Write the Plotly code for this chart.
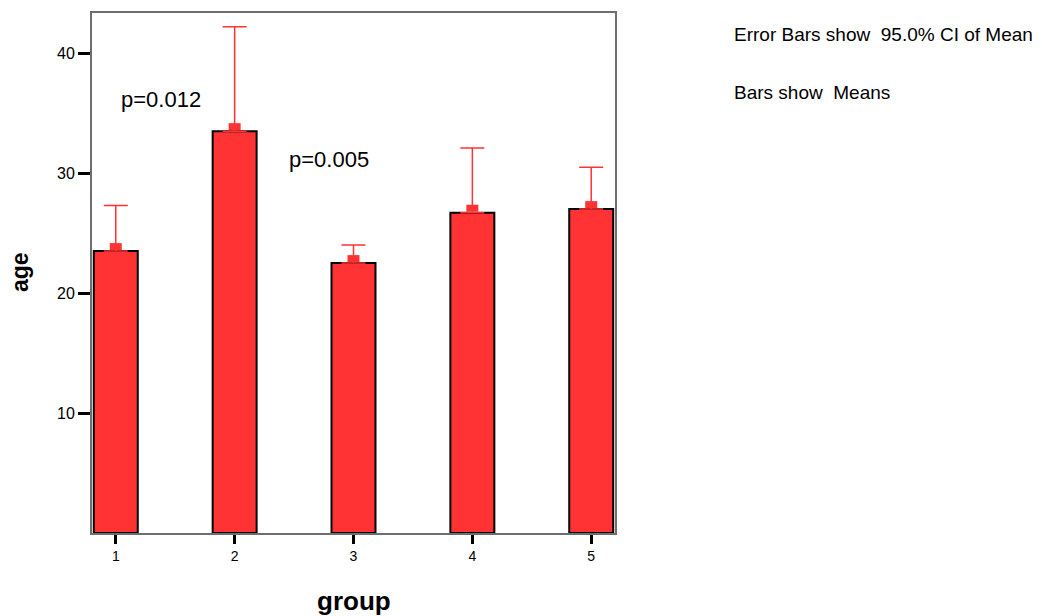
import plotly.graph_objects as go

groups = [1, 2, 3, 4, 5]
means = [23.5, 33.5, 22.5, 26.7, 27.0]
upper_ci = [27.3, 42.2, 24.0, 32.1, 30.5]
y_ticks = [10, 20, 30, 40]
x_tick_labels = ["1", "2", "3", "4", "5"]
p_labels = ["p=0.012", "p=0.005"]
notes = ["Error Bars show  95.0% CI of Mean", "Bars show  Means"]

RED = "rgb(255,51,51)"
FONT = "Liberation Sans, Arial, sans-serif"

err_plus = [u - m for u, m in zip(upper_ci, means)]
err_minus = [0 for _ in means]

fig = go.Figure()
fig.add_trace(go.Bar(
    x=groups, y=means, width=0.37,
    marker=dict(color=RED, line=dict(color="black", width=2)),
    error_y=dict(type="data", symmetric=False, array=err_plus, arrayminus=err_minus,
                 color=RED, thickness=1.5, width=12),
    showlegend=False,
))

shapes = []
for g, m in zip(groups, means):
    shapes.append(dict(type="rect", xref="x", yref="y",
                       xsizemode="pixel", ysizemode="pixel",
                       xanchor=g, yanchor=m, x0=-6, x1=6, y0=1, y1=8,
                       fillcolor=RED, line=dict(width=0), layer="above"))

annotations = [
    dict(x=1.03, y=36.1, xref="x", yref="y", text=p_labels[0], showarrow=False,
         xanchor="left", yanchor="middle", font=dict(family=FONT, size=22, color="black")),
    dict(x=2.44, y=31.1, xref="x", yref="y", text=p_labels[1], showarrow=False,
         xanchor="left", yanchor="middle", font=dict(family=FONT, size=22, color="black")),
    dict(x=1.2235, y=0.958, xref="paper", yref="paper", text=notes[0], showarrow=False,
         xanchor="left", yanchor="middle", font=dict(family=FONT, size=19, color="black")),
    dict(x=1.2235, y=0.847, xref="paper", yref="paper", text=notes[1], showarrow=False,
         xanchor="left", yanchor="middle", font=dict(family=FONT, size=19, color="black")),
    dict(x=(20 - 92) / 523, y=(533 - 271) / 522, xref="paper", yref="paper", text="<b>age</b>",
         showarrow=False, textangle=-90, xanchor="center", yanchor="middle",
         font=dict(family=FONT, size=23, color="black")),
    dict(x=(354 - 92) / 523, y=(533 - 601) / 522, xref="paper", yref="paper", text="<b>group</b>",
         showarrow=False, xanchor="center", yanchor="middle",
         font=dict(family=FONT, size=26, color="black")),
]

fig.update_layout(
    width=1042, height=616,
    margin=dict(l=92, r=427, t=11, b=83),
    paper_bgcolor="white", plot_bgcolor="white",
    shapes=shapes, annotations=annotations,
    font=dict(family=FONT, color="black"),
    xaxis=dict(range=[0.8, 5.2], tickvals=groups, ticktext=x_tick_labels,
               showgrid=False, zeroline=False, showline=True, mirror=True,
               linecolor="rgb(110,110,110)", linewidth=2,
               ticks="outside", ticklen=9, tickwidth=3, tickcolor="black",
               tickfont=dict(family=FONT, size=14, color="black")),
    yaxis=dict(range=[0, 43.35], tickvals=y_ticks,
               showgrid=False, zeroline=False, showline=True, mirror=True,
               linecolor="rgb(110,110,110)", linewidth=2,
               ticks="outside", ticklen=12, tickwidth=3, tickcolor="black",
               tickfont=dict(family=FONT, size=16, color="black")),
)

fig.write_html("out.html")
